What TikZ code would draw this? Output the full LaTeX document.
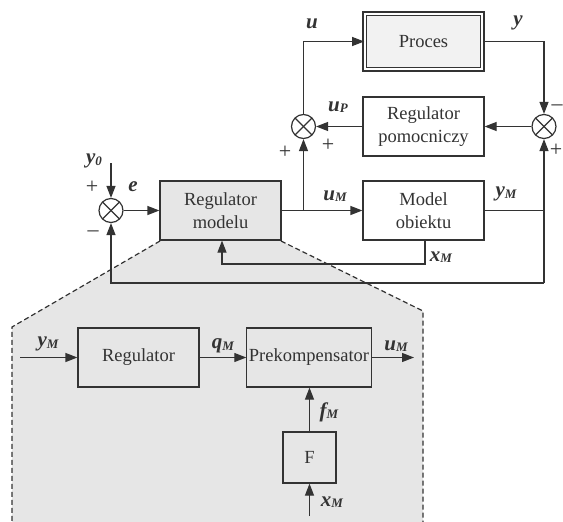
\documentclass[tikz,border=0pt]{standalone}
\usepackage{fontspec}
\setmainfont{Liberation Serif}
\usetikzlibrary{arrows.meta}

\definecolor{ink}{HTML}{333333}
\definecolor{panelgray}{HTML}{E6E6E6}
\definecolor{procfill}{HTML}{F2F2F2}

% text styles
\newcommand\blkfont{\rmfamily\fontsize{18.5}{22.5}\selectfont}
\newcommand\sigl[2]{{\rmfamily\fontsize{21}{21}\selectfont\bfseries\itshape #1}\raisebox{-0.35ex}{\fontsize{13}{13}\selectfont\bfseries\itshape #2}}

\begin{document}
\begin{tikzpicture}[x=1pt,y=-1pt,line width=1.2pt,color=ink,
  block/.style={draw,rectangle,minimum width=121pt,minimum height=59pt,
    inner sep=2pt,align=center,font=\blkfont},
  sumnode/.style={draw,circle,minimum size=24pt,inner sep=0pt,
    path picture={
      \draw (path picture bounding box.north west) -- (path picture bounding box.south east);
      \draw (path picture bounding box.north east) -- (path picture bounding box.south west);}},
  sig/.style={-{Triangle[length=12pt,width=9pt]}},
  lbl/.style={inner sep=0pt},
  sgn/.style={inner sep=0pt,font=\rmfamily\fontsize{22}{22}\selectfont}]

\useasboundingbox (0,0) rectangle (563,522);

% zoomed-in detail of the model controller
\fill[panelgray] (160,241) -- (281,241) -- (423,311) -- (423,522) -- (12,522) -- (12,327) -- cycle;
\draw[dash pattern=on 5pt off 3pt] (160,241) -- (12,327) -- (12,522);
\draw[dash pattern=on 5pt off 3pt] (281,241) -- (423,311) -- (423,522);

% upper loop blocks
\node[block,fill=panelgray] (rm) at (220.5,210.5) {Regulator\\modelu};
\node[block,fill=procfill,double,double distance=2.2pt,minimum width=117.5pt,minimum height=55.5pt] (proc) at (423.5,41.5) {Proces};
\node[block,fill=white] (rp) at (423.5,126.5) {Regulator\\pomocniczy};
\node[block,fill=white] (mo) at (423.5,210.5) {Model\\obiektu};

% summing junctions
\node[sumnode,fill=white] (s0) at (111,210.5) {};
\node[sumnode,fill=white] (s1) at (303.5,126.5) {};
\node[sumnode,fill=white] (s2) at (544,126.5) {};

% auxiliary points
\coordinate (y0in) at (111,163);
\coordinate (br) at (303.5,210.5);
\coordinate (cr) at (544,283);
\coordinate (xmc) at (425,264);
\coordinate (xmr) at (222,264);

% upper connectors
\draw[sig] (y0in) -- (s0.north);
\draw[sig] (s0.east) -- (rm.west);
\draw[sig] (rm.east) -- (mo.west);
\draw[sig] (br) -- (s1.south);
\draw[sig] (s1.north) |- (proc.west);
\draw[sig] (proc.east) -| (s2.north);
\draw[sig] (s2.west) -- (rp.east);
\draw[sig] (rp.west) -- (s1.east);
\draw (mo.east) -- (mo.east -| cr);
\draw[sig] (cr) -- (s2.south);
\draw[sig] (cr) -| (s0.south);
\draw[sig] (xmc |- mo.south) -- (xmc) -- (xmr) -- (xmr |- rm.south);

% upper labels
\node[lbl] at (94,161) {\sigl{y}{0}};
\node[sgn] at (92,187) {+};
\node[sgn] at (93,234) {\textendash};
\node[lbl] at (133,187) {\sigl{e}{}};
\node[lbl] at (312,24) {\sigl{u}{}};
\node[lbl] at (518,23) {\sigl{y}{}};
\node[lbl] at (338,107) {\sigl{u}{P}};
\node[sgn] at (285,152) {+};
\node[sgn] at (328,145) {+};
\node[sgn] at (557,108) {\textendash};
\node[sgn] at (556,150) {+};
\node[lbl] at (335,196) {\sigl{u}{M}};
\node[lbl] at (506,194) {\sigl{y}{M}};
\node[lbl] at (441,257) {\sigl{x}{M}};

% inner structure of the model controller
\node[block,fill=panelgray] (reg) at (138.5,357.5) {Regulator};
\node[block,fill=panelgray,minimum width=120pt] (prek) at (309,357.5) {Prekompensator};
\node[block,fill=panelgray,minimum width=53pt,minimum height=51pt] (ff) at (309.5,457.5) {F};

\coordinate (ymin) at (20,357.5);
\coordinate (umout) at (414,357.5);
\coordinate (xmin) at (309.5,516);

\draw[sig] (ymin) -- (reg.west);
\draw[sig] (reg.east) -- (prek.west);
\draw[sig] (prek.east) -- (umout);
\draw[sig] (ff.north) -- (ff.north |- prek.south);
\draw[sig] (xmin) -- (ff.south);

\node[lbl] at (48,344) {\sigl{y}{M}};
\node[lbl] at (223,346) {\sigl{q}{M}};
\node[lbl] at (396,346) {\sigl{u}{M}};
\node[lbl] at (329,412) {\sigl{f}{M}};
\node[lbl] at (332,502) {\sigl{x}{M}};
\end{tikzpicture}
\end{document}
